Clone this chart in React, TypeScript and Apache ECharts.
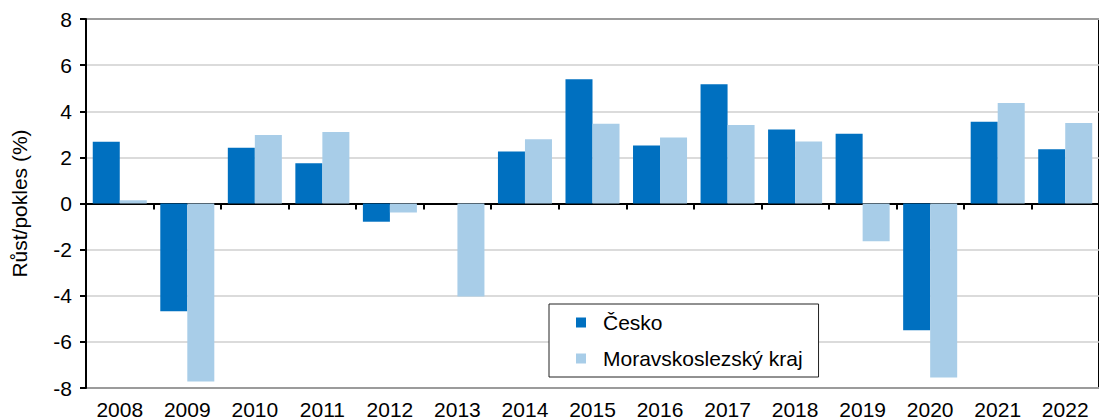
import React, { useEffect, useRef } from "react";
import * as echarts from "echarts";

const years = ["2008", "2009", "2010", "2011", "2012", "2013", "2014", "2015", "2016", "2017", "2018", "2019", "2020", "2021", "2022"];
const cesko = [2.68, -4.67, 2.42, 1.74, -0.79, 0.0, 2.26, 5.39, 2.52, 5.17, 3.21, 3.02, -5.5, 3.54, 2.35];
const msk = [0.14, -7.72, 2.97, 3.1, -0.39, -4.03, 2.79, 3.46, 2.86, 3.4, 2.69, -1.64, -7.55, 4.36, 3.49];
const seriesNames = ["Česko", "Moravskoslezský kraj"];
const yTicks = { min: -8, max: 8, interval: 2 };
const yAxisName = "Růst/pokles (%)";

const FONT = "'Liberation Sans', Arial, sans-serif";

export default function App() {
  const ref = useRef<HTMLDivElement>(null);
  useEffect(() => {
    if (!ref.current) return;
    const chart = echarts.init(ref.current, null, { renderer: "svg" });
    chart.setOption({
      animation: false,
      backgroundColor: "#fff",
      textStyle: { fontFamily: FONT },
      grid: {
        left: 86,
        right: -10.6,
        top: 19,
        bottom: 31,
        show: true,
        borderColor: "#000",
        borderWidth: 2,
        backgroundColor: "transparent",
        containLabel: false,
      },
      legend: {
        data: seriesNames,
        orient: "vertical",
        left: 549,
        top: 304,
        padding: [8, 16, 8, 27],
        itemGap: 15,
        itemWidth: 10,
        itemHeight: 10,
        icon: "rect",
        backgroundColor: "#fff",
        borderColor: "#222",
        borderWidth: 1,
        textStyle: { fontFamily: FONT, fontSize: 21, color: "#000", lineHeight: 21, padding: [0, 0, 0, 12] },
      },
      xAxis: [
        {
          type: "category",
          data: years,
          position: "bottom",
          axisLine: { show: true, onZero: true, lineStyle: { color: "#000", width: 2 } },
          axisTick: { show: true, length: 6, lineStyle: { color: "#000", width: 2 } },
          axisLabel: { show: false },
          splitLine: { show: false },
        },
        {
          type: "category",
          data: years,
          position: "bottom",
          axisLine: { show: false, onZero: false },
          axisTick: { show: false },
          axisLabel: { show: true, fontFamily: FONT, fontSize: 21, color: "#000", margin: 11 },
          splitLine: { show: false },
        },
      ],
      yAxis: {
        type: "value",
        min: yTicks.min,
        max: yTicks.max,
        interval: yTicks.interval,
        name: yAxisName,
        nameLocation: "middle",
        nameGap: 56,
        nameTextStyle: { fontFamily: FONT, fontSize: 21, color: "#000" },
        axisLine: { show: true, lineStyle: { color: "#000", width: 2 } },
        axisTick: { show: true, length: 6, lineStyle: { color: "#000", width: 2 } },
        axisLabel: { fontFamily: FONT, fontSize: 21, color: "#000", margin: 14 },
        splitLine: { show: true, lineStyle: { color: "#cfcfcf", width: 1.5 } },
      },
      series: [
        {
          name: seriesNames[0],
          type: "bar",
          xAxisIndex: 0,
          data: cesko,
          barGap: "0%",
          barCategoryGap: "20%",
          itemStyle: { color: "#0070C0" },
        },
        {
          name: seriesNames[1],
          type: "bar",
          xAxisIndex: 0,
          data: msk,
          barGap: "0%",
          barCategoryGap: "20%",
          itemStyle: { color: "#A8CDE8" },
        },
      ],
    });
    return () => chart.dispose();
  }, []);
  return <div ref={ref} style={{ width: 1099, height: 420, position: "absolute", left: 0, top: 0 }} />;
}
